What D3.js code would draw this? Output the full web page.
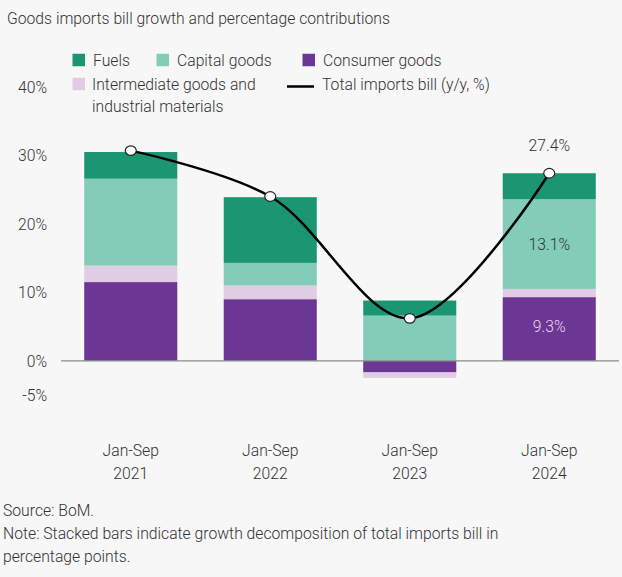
<!DOCTYPE html>
<html>
<head>
<meta charset="utf-8">
<script src="https://cdn.jsdelivr.net/npm/d3@7"></script>
<style>
  html, body { margin: 0; padding: 0; background: #f7f7f7; }
  svg { display: block; font-family: Roboto, "Noto Sans", sans-serif; font-weight: 300; }
</style>
</head>
<body>
<svg id="chart" width="622" height="577"></svg>
<script>
// Periods on the x axis (two-line labels)
const periods = ["Jan-Sep 2021", "Jan-Sep 2022", "Jan-Sep 2023", "Jan-Sep 2024"];
const periodLines = [["Jan-Sep", "2021"], ["Jan-Sep", "2022"], ["Jan-Sep", "2023"], ["Jan-Sep", "2024"]];

// Contributions to growth, percentage points
const consumerGoods = [11.5, 9.0, -1.7, 9.3];
const intermediateGoods = [2.4, 2.0, -0.8, 1.2];
const capitalGoods = [12.7, 3.3, 6.6, 13.1];
const fuels = [3.9, 9.6, 2.2, 3.8];

// Total imports bill, y/y %
const totalBill = [30.7, 24.0, 6.2, 27.4];

// Y axis ticks
const yTicks = [40, 30, 20, 10, 0, -5];

const seriesNames = ["Consumer goods", "Intermediate goods and industrial materials", "Capital goods", "Fuels"];
const seriesValues = [consumerGoods, intermediateGoods, capitalGoods, fuels];
const seriesColors = ["#6c3794", "#e0cde3", "#83cdb8", "#1b9572"];

const svg = d3.select("#chart");
const W = 622, H = 577;
const FS = 17, SX = 0.925, INK = "#333";

svg.append("rect").attr("width", W).attr("height", H).attr("fill", "#f7f7f7");

// Text helper: slightly condensed type, one or more lines
function label(parent, x, y, lines, opts = {}) {
  const g = parent.append("g").attr("transform", `translate(${x},${y}) scale(${SX},1)`);
  const t = g.append("text")
    .attr("text-anchor", opts.anchor || "start")
    .attr("font-size", opts.size || FS)
    .attr("fill", opts.fill || INK);
  [].concat(lines).forEach((ln, j) => {
    t.append("tspan").attr("x", 0)
      .attr("dy", j === 0 ? "0.35em" : (opts.lh || "1.35em"))
      .text(ln);
  });
  return t;
}

const x = d3.scaleBand().domain(periods).range([61, 619]).paddingInner(0.333).paddingOuter(0.1665);
const y = d3.scaleLinear().domain([-5, 40]).range([395, 87]);

// Title
label(svg, 7, 18, "Goods imports bill growth and percentage contributions");

// Y tick labels
const yAxisG = svg.append("g");
yTicks.forEach(d => label(yAxisG, 47, y(d), d + "%", { anchor: "end" }));

// Stacked bars (positive and negative parts stacked separately)
const table = periods.map((p, i) => {
  const row = { period: p };
  seriesNames.forEach((s, k) => row[s] = seriesValues[k][i]);
  return row;
});
const stack = d3.stack().keys(seriesNames).offset(d3.stackOffsetDiverging);
const stacked = stack(table);

svg.append("g").selectAll("g").data(stacked).join("g")
  .attr("fill", (d, k) => seriesColors[k])
  .selectAll("rect").data(d => d).join("rect")
  .attr("x", d => x(d.data.period))
  .attr("width", x.bandwidth())
  .attr("y", d => y(Math.max(d[0], d[1])))
  .attr("height", d => Math.abs(y(d[0]) - y(d[1])));

// Zero line
svg.append("line")
  .attr("x1", 61).attr("x2", 619)
  .attr("y1", y(0)).attr("y2", y(0))
  .attr("stroke", "#8a8a8a").attr("stroke-width", 1.2);

// Total imports bill line
const cx = p => x(p) + x.bandwidth() / 2;
const line = d3.line()
  .x((d, i) => cx(periods[i]))
  .y(d => y(d))
  .curve(d3.curveCatmullRom.alpha(0.5));
svg.append("path").datum(totalBill)
  .attr("d", line).attr("fill", "none")
  .attr("stroke", "#000").attr("stroke-width", 2.5);

svg.append("g").selectAll("ellipse").data(totalBill).join("ellipse")
  .attr("cx", (d, i) => cx(periods[i])).attr("cy", d => y(d))
  .attr("rx", 5.5).attr("ry", 4.8)
  .attr("fill", "#fff").attr("stroke", "#222").attr("stroke-width", 1.2);

// Value labels on the last bar
const last = periods.length - 1;
const lx = cx(periods[last]);
label(svg, lx, y(totalBill[last]) - 28, totalBill[last].toFixed(1) + "%", { anchor: "middle" });
const capStart = consumerGoods[last] + intermediateGoods[last];
label(svg, lx, y(capStart + capitalGoods[last] / 2), capitalGoods[last].toFixed(1) + "%", { anchor: "middle" });
label(svg, lx, y(consumerGoods[last] / 2) - 3, consumerGoods[last].toFixed(1) + "%", { anchor: "middle", fill: "#e6d8ee" });

// X axis labels
const xAxisG = svg.append("g");
periods.forEach((p, i) => label(xAxisG, cx(p), 450, periodLines[i], { anchor: "middle" }));

// Legend
const legend = svg.append("g");
const sq = 12.5;
const legendItems = [
  { name: "Fuels", color: seriesColors[3], x: 72.5, y: 60 },
  { name: "Capital goods", color: seriesColors[2], x: 156.5, y: 60 },
  { name: "Consumer goods", color: seriesColors[0], x: 302.5, y: 60 }
];
legendItems.forEach(it => {
  legend.append("rect").attr("x", it.x).attr("y", it.y - sq / 2).attr("width", sq).attr("height", sq).attr("fill", it.color);
  label(legend, it.x + sq + 8, it.y, it.name);
});
legend.append("rect").attr("x", 72.5).attr("y", 84 - sq / 2).attr("width", sq).attr("height", sq).attr("fill", seriesColors[1]);
label(legend, 92, 84, ["Intermediate goods and", "industrial materials"], { lh: "1.3em" });
legend.append("line").attr("x1", 287).attr("x2", 314).attr("y1", 86.5).attr("y2", 86.5)
  .attr("stroke", "#000").attr("stroke-width", 2.5);
label(legend, 322, 84, "Total imports bill (y/y, %)");

// Source and note
label(svg, 3, 510, [
  "Source: BoM.",
  "Note: Stacked bars indicate growth decomposition of total imports bill in",
  "percentage points."
], { lh: "1.36em" });
</script>
</body>
</html>
